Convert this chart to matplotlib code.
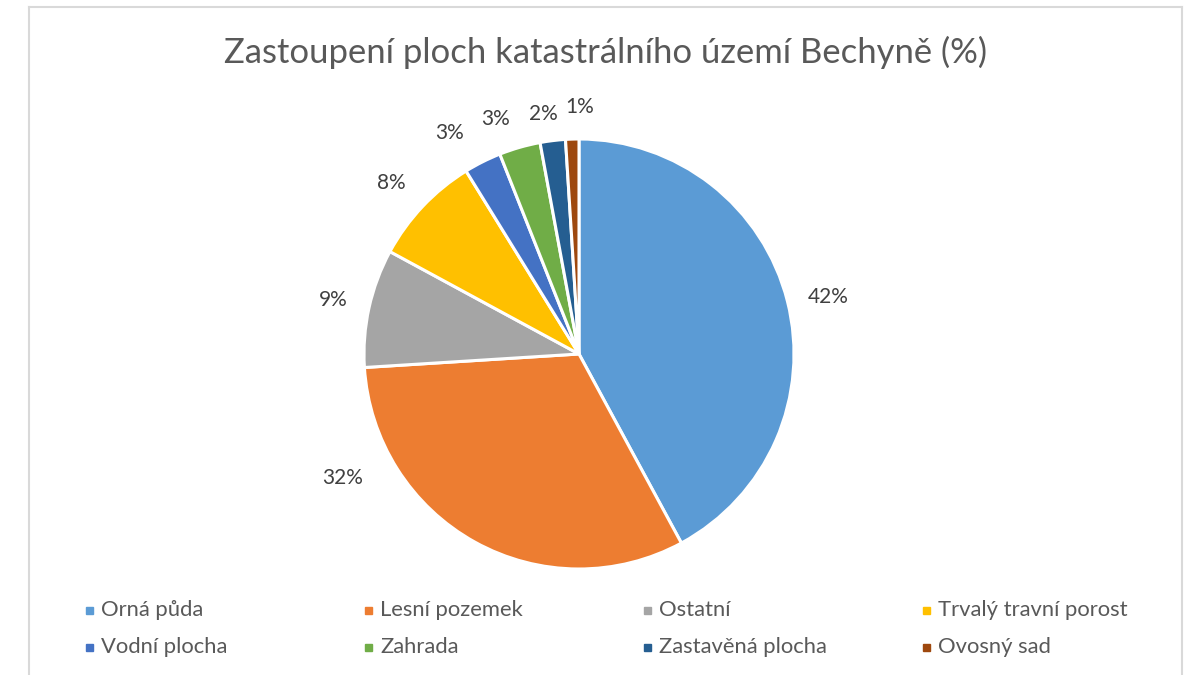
import numpy as np
import matplotlib
matplotlib.use("Agg")
import matplotlib.pyplot as plt
from matplotlib.patches import Rectangle
from matplotlib.lines import Line2D

categories = ["Orná půda", "Lesní pozemek", "Ostatní", "Trvalý travní porost",
              "Vodní plocha", "Zahrada", "Zastavěná plocha", "Ovosný sad"]
values = [42.1, 31.9, 8.9, 8.3, 2.8, 3.1, 1.9, 1.0]
pct_labels = ["42%", "32%", "9%", "8%", "3%", "3%", "2%", "1%"]
colors = ["#5B9BD5", "#ED7D31", "#A5A5A5", "#FFC000",
          "#4472C4", "#70AD47", "#255E91", "#9E480E"]
title = "Zastoupení ploch katastrálního území Bechyně (%)"

# label placement tweaks (clockwise degrees shift, radial distance)
label_shift = [1.3, 33.4, 0.0, -1.0, -3.8, -3.5, -1.5, 2.0]
label_dist = [1.19, 1.24, 1.17, 1.18, 1.19, 1.16, 1.13, 1.15]

plt.rcParams['font.family'] = ['Lato', 'DejaVu Sans']

W, H = 1192, 675
fig = plt.figure(figsize=(W / 100, H / 100), dpi=100)

# border
fig.add_artist(Line2D([29 / W, 29 / W], [0, 1 - 7 / H], color="#d9d9d9", lw=1.5, transform=fig.transFigure))
fig.add_artist(Line2D([29 / W, 1182 / W], [1 - 7 / H, 1 - 7 / H], color="#d9d9d9", lw=1.5, transform=fig.transFigure))
fig.add_artist(Line2D([1182 / W, 1182 / W], [0, 1 - 7 / H], color="#d9d9d9", lw=1.5, transform=fig.transFigure))

R = 215.0
cx, cy = 579.0, H - 354.0
span = 2.7 * R
ax = fig.add_axes([(cx - span / 2) / W, (cy - span / 2) / H, span / W, span / H])
wedges, _ = ax.pie(values, colors=colors, startangle=90, counterclock=False,
                   wedgeprops=dict(edgecolor="white", linewidth=2.2))
ax.set_xlim(-1.35, 1.35)
ax.set_ylim(-1.35, 1.35)
ax.set_aspect("equal")
ax.axis("off")

for w, lab, sh, d in zip(wedges, pct_labels, label_shift, label_dist):
    mid = np.deg2rad((w.theta1 + w.theta2) / 2 - sh)
    ax.text(d * np.cos(mid), d * np.sin(mid), lab, ha="center", va="center",
            fontsize=15, color="#404040")

fig.text(606 / W, 1 - 52 / H, title, ha="center", va="center",
         fontsize=24.9, color="#595959")

# legend
for i, (cat, col) in enumerate(zip(categories, colors)):
    c, r = i % 4, i // 4
    x = 89 + c * 279
    y = 610 + r * 37
    fig.add_artist(Rectangle(((x - 3.5) / W, 1 - (y + 3.5) / H), 7 / W, 7 / H,
                             color=col, transform=fig.transFigure))
    fig.text((x + 12) / W, 1 - y / H, cat, ha="left", va="center",
             fontsize=15.8, color="#595959")

fig.savefig("out.png", dpi=100)
